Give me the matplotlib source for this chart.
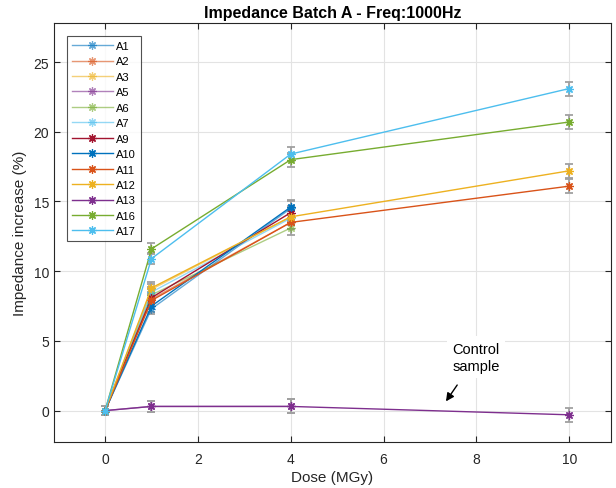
import numpy as np
import matplotlib
matplotlib.use('Agg')
import matplotlib.pyplot as plt

plt.rcParams['font.family'] = ['Liberation Sans', 'DejaVu Sans']

# dose steps (MGy)
dose = [0, 1, 4, 10]

# impedance increase (%) per sample, batch A
A1 = [0, 7.3, 14.5]
A2 = [0, 8.0, 13.5]
A3 = [0, 8.7, 13.9]
A5 = [0, 0.3, 0.3]
A6 = [0, 8.3, 13.1]
A7 = [0, 8.5, 13.8]
A9 = [0, 8.1, 14.2]
A10 = [0, 7.5, 14.6]
A11 = [0, 7.9, 13.5, 16.1]
A12 = [0, 8.8, 13.9, 17.2]
A13 = [0, 0.3, 0.3, -0.3]
A16 = [0, 11.6, 18.0, 20.7]
A17 = [0, 10.9, 18.4, 23.1]

# measurement spread (%)
err3 = [0.3, 0.4, 0.5]
err4 = [0.3, 0.4, 0.5, 0.5]

names = ['A1', 'A2', 'A3', 'A5', 'A6', 'A7', 'A9', 'A10',
         'A11', 'A12', 'A13', 'A16', 'A17']
series = [A1, A2, A3, A5, A6, A7, A9, A10, A11, A12, A13, A16, A17]

mcol = ['#0072bd', '#d95319', '#edb120', '#7e2f8e', '#77ac30', '#4dbeee', '#a2142f']
colors = [mcol[i % 7] for i in range(len(series))]
# first irradiation campaign drawn faded
alphas = [0.6] * 6 + [1.0] * 7

fig = plt.figure(figsize=(6.16, 4.89), dpi=100)
ax = fig.add_axes([0.0877, 0.0941, 0.9042, 0.8568])

# error bars underneath
for vals in series:
    x = dose[:len(vals)]
    e = err4 if len(vals) == 4 else err3
    ax.errorbar(x, vals, yerr=e, fmt='none', ecolor='#a0a0a0', elinewidth=1.3,
                capsize=2.6, capthick=1.3, zorder=2)

handles = []
for name, vals, c, a in zip(names, series, colors, alphas):
    h, = ax.plot(dose[:len(vals)], vals, color=c, alpha=a, lw=1.0,
                 marker=(8, 2, 0), markersize=6, markeredgewidth=0.9,
                 label=name, zorder=3)
    handles.append(h)

ax.set_xlim(-1.1, 10.9)
ax.set_ylim(-2.25, 27.8)
ax.set_xticks([0, 2, 4, 6, 8, 10])
ax.set_yticks([0, 5, 10, 15, 20, 25])
ax.grid(True, color='#e3e3e3', lw=0.8)
ax.set_axisbelow(True)
ax.tick_params(direction='in', top=True, right=True, labelsize=10,
               colors='#262626', length=4)
ax.tick_params(axis='x', pad=7)
for s in ax.spines.values():
    s.set_color('#262626')
    s.set_linewidth(0.8)

ax.set_xlabel('Dose (MGy)', fontsize=11, color='#262626', labelpad=3)
ax.set_ylabel('Impedance increase (%)', fontsize=11, color='#262626', labelpad=5)
ax.set_title('Impedance Batch A - Freq:1000Hz', fontsize=11.5, fontweight='bold',
             pad=4)

leg = ax.legend(handles=handles, loc='upper left', bbox_to_anchor=(0.023, 0.969),
                borderaxespad=0, fontsize=8, frameon=True, fancybox=False,
                edgecolor='#262626', handlelength=3.7, labelspacing=0.49,
                borderpad=0.45, handletextpad=0.3)
leg.get_frame().set_linewidth(0.8)

ax.text(7.48, 4.95, 'Control\nsample', fontsize=10.5, va='top', ha='left',
        linespacing=1.3,
        bbox=dict(facecolor='white', edgecolor='none', pad=4))
ax.annotate('', xy=(7.31, 0.5), xytext=(7.62, 2.0),
            arrowprops=dict(arrowstyle='-|>', color='black', lw=1.0,
                            mutation_scale=12))

fig.savefig('out.png', dpi=100)
